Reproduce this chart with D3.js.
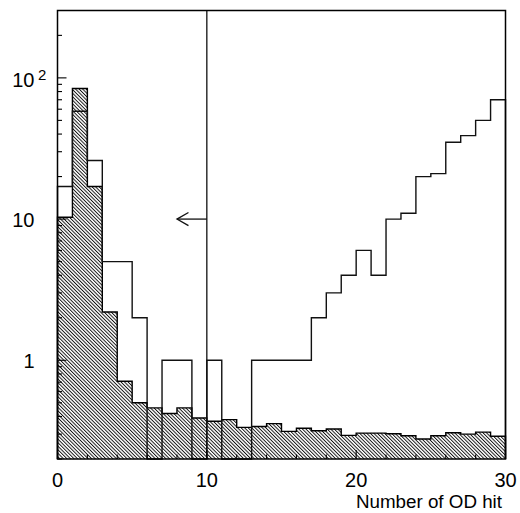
<!DOCTYPE html>
<html>
<head>
<meta charset="utf-8">
<script src="https://cdn.jsdelivr.net/npm/d3@7"></script>
<style>
  html, body { margin: 0; padding: 0; background: #fff; }
  svg { display: block; font-family: "Liberation Sans", Arial, Helvetica, sans-serif; }
</style>
</head>
<body>
<svg id="chart" width="520" height="513"></svg>
<script>
// Bin edges: 30 unit-wide bins covering 0..30 OD hits
const binEdges = d3.range(0, 31);

// Open histogram (outline only)
const openCounts = [17, 58, 26, 5, 5, 2, 0, 1, 1, 0,
                    1, 0, 0, 1, 1, 1, 1, 2, 3, 4,
                    6, 4, 10, 11, 20, 21, 35, 39, 50, 70];

// Hatched histogram
const hatchedCounts = [10.3, 84, 17, 2.2, 0.71, 0.50, 0.46, 0.42, 0.46, 0.39,
                       0.37, 0.38, 0.335, 0.34, 0.356, 0.314, 0.33, 0.317, 0.326, 0.294,
                       0.305, 0.305, 0.302, 0.292, 0.277, 0.292, 0.307, 0.30, 0.31, 0.29];

// Cut position and arrow
const cutValue = 10;
const arrowTip = 8;
const arrowLevel = 10;

// Axis ticks
const xMajorTicks = [0, 10, 20, 30];
const xMinorTicks = d3.range(0, 31, 2);
const yMajorTicks = [1, 10, 100];
const yMinorTicks = [0.2, 0.3, 0.4, 0.5, 0.6, 0.7, 0.8, 0.9,
                     2, 3, 4, 5, 6, 7, 8, 9,
                     20, 30, 40, 50, 60, 70, 80, 90, 200];
const xTitle = "Number of OD hit";

const svg = d3.select("#chart");
const frameL = 57.5, frameR = 505.5, frameT = 10.5, frameB = 459;

const x = d3.scaleLinear().domain([0, 30]).range([frameL, frameR]);
const y = d3.scaleLog().domain([0.2, 300]).range([frameB, frameT]).clamp(true);
const yMin = y.domain()[0];
const yv = v => y(v > yMin ? v : yMin);

// Diagonal hatch pattern
const defs = svg.append("defs");
const pat = defs.append("pattern")
  .attr("id", "hatch")
  .attr("patternUnits", "userSpaceOnUse")
  .attr("width", 2.5).attr("height", 10)
  .attr("patternTransform", "rotate(-45)");
pat.append("rect").attr("x", 0).attr("y", 0).attr("width", 0.95).attr("height", 10).attr("fill", "#111");

function stepPoints(values) {
  const pts = [[x(binEdges[0]), frameB]];
  values.forEach((v, i) => {
    pts.push([x(binEdges[i]), yv(v)]);
    pts.push([x(binEdges[i + 1]), yv(v)]);
  });
  pts.push([x(binEdges[values.length]), frameB]);
  return pts;
}

const line = d3.line();

// Hatched histogram: fill + outline
const hPts = stepPoints(hatchedCounts);
svg.append("path")
  .attr("d", line(hPts) + "Z")
  .attr("fill", "url(#hatch)")
  .attr("stroke", "none");
svg.append("path")
  .attr("d", line(hPts))
  .attr("fill", "none")
  .attr("stroke", "#000")
  .attr("stroke-width", 1.4);

// Open histogram outline
svg.append("path")
  .attr("d", line(stepPoints(openCounts)))
  .attr("fill", "none")
  .attr("stroke", "#111")
  .attr("stroke-width", 1.4);

// Cut line and arrow
svg.append("line")
  .attr("x1", x(cutValue)).attr("x2", x(cutValue))
  .attr("y1", frameT).attr("y2", frameB)
  .attr("stroke", "#111").attr("stroke-width", 1.3);
const ay = y(arrowLevel);
svg.append("line")
  .attr("x1", x(cutValue)).attr("x2", x(arrowTip))
  .attr("y1", ay).attr("y2", ay)
  .attr("stroke", "#111").attr("stroke-width", 1.3);
svg.append("path")
  .attr("d", `M${x(arrowTip) + 11.5},${ay - 6.6}L${x(arrowTip)},${ay}L${x(arrowTip) + 11.5},${ay + 6.6}`)
  .attr("fill", "none").attr("stroke", "#111").attr("stroke-width", 1.3);

// Frame
svg.append("rect")
  .attr("x", frameL).attr("y", frameT)
  .attr("width", frameR - frameL).attr("height", frameB - frameT)
  .attr("fill", "none").attr("stroke", "#000").attr("stroke-width", 1.5);

// X ticks (inside, pointing up)
const ticks = svg.append("g").attr("stroke", "#000").attr("stroke-width", 1.1);
xMinorTicks.forEach(t => {
  const len = xMajorTicks.includes(t) ? 9 : 4.5;
  ticks.append("line").attr("x1", x(t)).attr("x2", x(t)).attr("y1", frameB).attr("y2", frameB - len);
});
// Y ticks (inside, pointing right)
yMajorTicks.forEach(t => {
  ticks.append("line").attr("x1", frameL).attr("x2", frameL + 9).attr("y1", y(t)).attr("y2", y(t));
});
yMinorTicks.forEach(t => {
  ticks.append("line").attr("x1", frameL).attr("x2", frameL + 4.5).attr("y1", y(t)).attr("y2", y(t));
});

// X tick labels
svg.append("g").selectAll("text").data(xMajorTicks).join("text")
  .attr("x", d => x(d)).attr("y", 486.5)
  .attr("text-anchor", "middle")
  .attr("font-size", 20).attr("fill", "#000")
  .text(d => d);

// Y tick labels
const yl = svg.append("g").attr("font-size", 20).attr("fill", "#000");
yMajorTicks.forEach(t => {
  const base = t === 100 ? y(t) + 9.3 : y(t) + 8.2;
  const exp = Math.round(Math.log10(t));
  const txt = yl.append("text").attr("x", 34.5).attr("y", base).attr("text-anchor", "end");
  if (exp >= 2) {
    txt.text("10");
    yl.append("text").attr("x", 38).attr("y", base - 7.3)
      .attr("font-size", 15).text(String(exp));
  } else {
    txt.text(String(t));
  }
});

// X axis title
svg.append("text")
  .attr("x", 502).attr("y", 508.3)
  .attr("text-anchor", "end")
  .attr("font-size", 18.8).attr("fill", "#000")
  .text(xTitle);
</script>
</body>
</html>
